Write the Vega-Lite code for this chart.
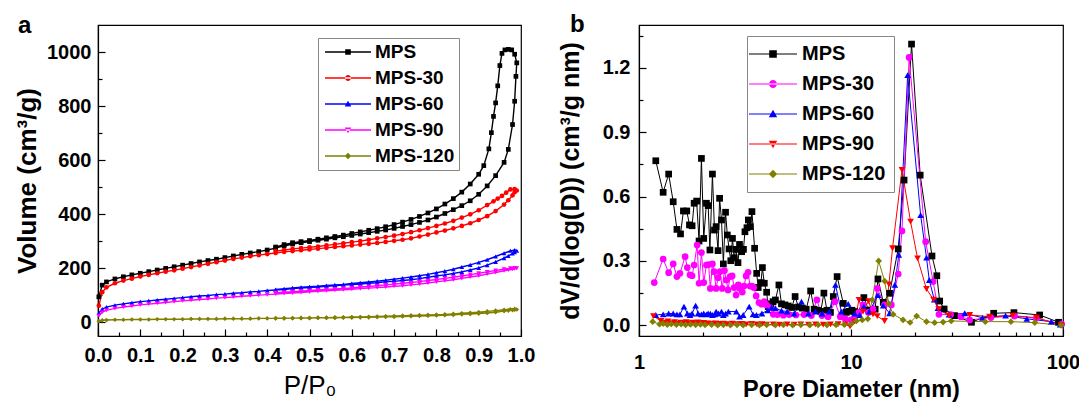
{
"$schema":"https://vega.github.io/schema/vega-lite/v6.json",
"background":"white",
"padding":{"left":13,"top":11,"right":5,"bottom":5},
"spacing":21,
"config":{
 "view":{"stroke":"#000000","strokeWidth":1.2},
 "font":"Liberation Sans",
 "axis":{"domainColor":"#000000","domainWidth":1.2,"tickColor":"#000000","tickWidth":1.2,"labelColor":"#000000","titleColor":"#000000","labelFont":"Liberation Sans","titleFont":"Liberation Sans","labelFontWeight":"bold","titleFontWeight":"bold","labelFontSize":20,"titleFontSize":23,"grid":false,"labelOverlap":false,"labelFlush":false},
 "legend":{"labelFont":"Liberation Sans","labelFontWeight":"bold","labelColor":"#000000","strokeColor":"#888888","fillColor":"#ffffff","symbolSize":400,"symbolStrokeWidth":0,"orient":"none"},
 "title":{"font":"Liberation Sans","fontWeight":"bold","color":"#000000","fontSize":24,"anchor":"start","frame":"group"}
},
"resolve":{"scale":{"color":"independent","shape":"independent"},"legend":{"color":"independent","shape":"independent"}},
"hconcat":[
{
"width":423,"height":311,
"title":{"text":"a","dx":-80,"offset":-12.5},
"data":{"values":[
{"s":"MPS","o":1,"p":0.002,"v":95},{"s":"MPS","o":2,"p":0.01,"v":138},{"s":"MPS","o":3,"p":0.02,"v":150},{"s":"MPS","o":4,"p":0.04,"v":161},{"s":"MPS","o":5,"p":0.06,"v":169},{"s":"MPS","o":6,"p":0.08,"v":176},{"s":"MPS","o":7,"p":0.10,"v":182},{"s":"MPS","o":8,"p":0.12,"v":188},{"s":"MPS","o":9,"p":0.14,"v":194},{"s":"MPS","o":10,"p":0.16,"v":200},{"s":"MPS","o":11,"p":0.18,"v":206},{"s":"MPS","o":12,"p":0.20,"v":212},{"s":"MPS","o":13,"p":0.22,"v":218},{"s":"MPS","o":14,"p":0.24,"v":224},{"s":"MPS","o":15,"p":0.26,"v":229},{"s":"MPS","o":16,"p":0.28,"v":234},{"s":"MPS","o":17,"p":0.30,"v":240},{"s":"MPS","o":18,"p":0.32,"v":246},{"s":"MPS","o":19,"p":0.34,"v":252},{"s":"MPS","o":20,"p":0.36,"v":257},{"s":"MPS","o":21,"p":0.38,"v":262},{"s":"MPS","o":22,"p":0.40,"v":268},{"s":"MPS","o":23,"p":0.42,"v":275},{"s":"MPS","o":24,"p":0.44,"v":283},{"s":"MPS","o":25,"p":0.46,"v":290},{"s":"MPS","o":26,"p":0.48,"v":295},{"s":"MPS","o":27,"p":0.50,"v":299},{"s":"MPS","o":28,"p":0.52,"v":304},{"s":"MPS","o":29,"p":0.54,"v":308},{"s":"MPS","o":30,"p":0.56,"v":313},{"s":"MPS","o":31,"p":0.58,"v":317},{"s":"MPS","o":32,"p":0.60,"v":322},{"s":"MPS","o":33,"p":0.62,"v":327},{"s":"MPS","o":34,"p":0.64,"v":332},{"s":"MPS","o":35,"p":0.66,"v":337},{"s":"MPS","o":36,"p":0.68,"v":342},{"s":"MPS","o":37,"p":0.70,"v":348},{"s":"MPS","o":38,"p":0.72,"v":355},{"s":"MPS","o":39,"p":0.74,"v":362},{"s":"MPS","o":40,"p":0.76,"v":370},{"s":"MPS","o":41,"p":0.78,"v":379},{"s":"MPS","o":42,"p":0.80,"v":390},{"s":"MPS","o":43,"p":0.82,"v":403},{"s":"MPS","o":44,"p":0.84,"v":417},{"s":"MPS","o":45,"p":0.86,"v":432},{"s":"MPS","o":46,"p":0.88,"v":450},{"s":"MPS","o":47,"p":0.90,"v":474},{"s":"MPS","o":48,"p":0.92,"v":505},{"s":"MPS","o":49,"p":0.94,"v":543},{"s":"MPS","o":50,"p":0.96,"v":592},{"s":"MPS","o":51,"p":0.97,"v":640},{"s":"MPS","o":52,"p":0.98,"v":732},{"s":"MPS","o":53,"p":0.985,"v":818},{"s":"MPS","o":54,"p":0.988,"v":910},{"s":"MPS","o":55,"p":0.99,"v":960},
{"s":"MPS","o":56,"p":0.985,"v":992},{"s":"MPS","o":57,"p":0.978,"v":1008},{"s":"MPS","o":58,"p":0.97,"v":1010},{"s":"MPS","o":59,"p":0.962,"v":1008},{"s":"MPS","o":60,"p":0.955,"v":995},{"s":"MPS","o":61,"p":0.95,"v":950},{"s":"MPS","o":62,"p":0.945,"v":875},{"s":"MPS","o":63,"p":0.94,"v":812},{"s":"MPS","o":64,"p":0.935,"v":762},{"s":"MPS","o":65,"p":0.93,"v":702},{"s":"MPS","o":66,"p":0.924,"v":642},{"s":"MPS","o":67,"p":0.912,"v":580},{"s":"MPS","o":68,"p":0.90,"v":548},{"s":"MPS","o":69,"p":0.88,"v":512},{"s":"MPS","o":70,"p":0.86,"v":482},{"s":"MPS","o":71,"p":0.84,"v":458},{"s":"MPS","o":72,"p":0.82,"v":438},{"s":"MPS","o":73,"p":0.80,"v":420},{"s":"MPS","o":74,"p":0.78,"v":405},{"s":"MPS","o":75,"p":0.76,"v":392},{"s":"MPS","o":76,"p":0.74,"v":381},{"s":"MPS","o":77,"p":0.72,"v":371},{"s":"MPS","o":78,"p":0.70,"v":362},{"s":"MPS","o":79,"p":0.68,"v":354},{"s":"MPS","o":80,"p":0.66,"v":347},{"s":"MPS","o":81,"p":0.64,"v":341},{"s":"MPS","o":82,"p":0.62,"v":335},{"s":"MPS","o":83,"p":0.60,"v":329},{"s":"MPS","o":84,"p":0.58,"v":323},{"s":"MPS","o":85,"p":0.56,"v":318},{"s":"MPS","o":86,"p":0.54,"v":313},{"s":"MPS","o":87,"p":0.52,"v":308},{"s":"MPS","o":88,"p":0.50,"v":303},{"s":"MPS","o":89,"p":0.48,"v":299},{"s":"MPS","o":90,"p":0.46,"v":295},{"s":"MPS","o":91,"p":0.44,"v":288},{"s":"MPS","o":92,"p":0.42,"v":279},
{"s":"MPS-30","o":1,"p":0.002,"v":62},{"s":"MPS-30","o":2,"p":0.01,"v":112},{"s":"MPS-30","o":3,"p":0.02,"v":130},{"s":"MPS-30","o":4,"p":0.04,"v":145},{"s":"MPS-30","o":5,"p":0.06,"v":155},{"s":"MPS-30","o":6,"p":0.08,"v":162},{"s":"MPS-30","o":7,"p":0.10,"v":170},{"s":"MPS-30","o":8,"p":0.12,"v":176},{"s":"MPS-30","o":9,"p":0.14,"v":182},{"s":"MPS-30","o":10,"p":0.16,"v":188},{"s":"MPS-30","o":11,"p":0.18,"v":193},{"s":"MPS-30","o":12,"p":0.20,"v":199},{"s":"MPS-30","o":13,"p":0.22,"v":205},{"s":"MPS-30","o":14,"p":0.24,"v":211},{"s":"MPS-30","o":15,"p":0.26,"v":217},{"s":"MPS-30","o":16,"p":0.28,"v":223},{"s":"MPS-30","o":17,"p":0.30,"v":229},{"s":"MPS-30","o":18,"p":0.32,"v":235},{"s":"MPS-30","o":19,"p":0.34,"v":240},{"s":"MPS-30","o":20,"p":0.36,"v":245},{"s":"MPS-30","o":21,"p":0.38,"v":249},{"s":"MPS-30","o":22,"p":0.40,"v":253},{"s":"MPS-30","o":23,"p":0.42,"v":257},{"s":"MPS-30","o":24,"p":0.44,"v":261},{"s":"MPS-30","o":25,"p":0.46,"v":264},{"s":"MPS-30","o":26,"p":0.48,"v":267},{"s":"MPS-30","o":27,"p":0.50,"v":270},{"s":"MPS-30","o":28,"p":0.52,"v":273},{"s":"MPS-30","o":29,"p":0.54,"v":276},{"s":"MPS-30","o":30,"p":0.56,"v":279},{"s":"MPS-30","o":31,"p":0.58,"v":282},{"s":"MPS-30","o":32,"p":0.60,"v":285},{"s":"MPS-30","o":33,"p":0.62,"v":288},{"s":"MPS-30","o":34,"p":0.64,"v":291},{"s":"MPS-30","o":35,"p":0.66,"v":294},{"s":"MPS-30","o":36,"p":0.68,"v":298},{"s":"MPS-30","o":37,"p":0.70,"v":302},{"s":"MPS-30","o":38,"p":0.72,"v":306},{"s":"MPS-30","o":39,"p":0.74,"v":311},{"s":"MPS-30","o":40,"p":0.76,"v":318},{"s":"MPS-30","o":41,"p":0.78,"v":325},{"s":"MPS-30","o":42,"p":0.80,"v":333},{"s":"MPS-30","o":43,"p":0.82,"v":340},{"s":"MPS-30","o":44,"p":0.84,"v":348},{"s":"MPS-30","o":45,"p":0.86,"v":357},{"s":"MPS-30","o":46,"p":0.88,"v":367},{"s":"MPS-30","o":47,"p":0.90,"v":379},{"s":"MPS-30","o":48,"p":0.92,"v":393},{"s":"MPS-30","o":49,"p":0.94,"v":412},{"s":"MPS-30","o":50,"p":0.96,"v":436},{"s":"MPS-30","o":51,"p":0.97,"v":452},{"s":"MPS-30","o":52,"p":0.98,"v":470},{"s":"MPS-30","o":53,"p":0.985,"v":482},{"s":"MPS-30","o":54,"p":0.99,"v":488},
{"s":"MPS-30","o":55,"p":0.985,"v":493},{"s":"MPS-30","o":56,"p":0.975,"v":492},{"s":"MPS-30","o":57,"p":0.965,"v":480},{"s":"MPS-30","o":58,"p":0.955,"v":468},{"s":"MPS-30","o":59,"p":0.945,"v":458},{"s":"MPS-30","o":60,"p":0.935,"v":448},{"s":"MPS-30","o":61,"p":0.92,"v":434},{"s":"MPS-30","o":62,"p":0.90,"v":415},{"s":"MPS-30","o":63,"p":0.88,"v":400},{"s":"MPS-30","o":64,"p":0.86,"v":388},{"s":"MPS-30","o":65,"p":0.84,"v":376},{"s":"MPS-30","o":66,"p":0.82,"v":366},{"s":"MPS-30","o":67,"p":0.80,"v":357},{"s":"MPS-30","o":68,"p":0.78,"v":349},{"s":"MPS-30","o":69,"p":0.76,"v":341},{"s":"MPS-30","o":70,"p":0.74,"v":334},{"s":"MPS-30","o":71,"p":0.72,"v":327},{"s":"MPS-30","o":72,"p":0.70,"v":321},{"s":"MPS-30","o":73,"p":0.68,"v":316},{"s":"MPS-30","o":74,"p":0.66,"v":311},{"s":"MPS-30","o":75,"p":0.64,"v":306},{"s":"MPS-30","o":76,"p":0.62,"v":301},{"s":"MPS-30","o":77,"p":0.60,"v":297},{"s":"MPS-30","o":78,"p":0.58,"v":293},{"s":"MPS-30","o":79,"p":0.56,"v":289},{"s":"MPS-30","o":80,"p":0.54,"v":285},{"s":"MPS-30","o":81,"p":0.52,"v":281},{"s":"MPS-30","o":82,"p":0.50,"v":278},{"s":"MPS-30","o":83,"p":0.48,"v":275},{"s":"MPS-30","o":84,"p":0.46,"v":272},{"s":"MPS-30","o":85,"p":0.44,"v":268},{"s":"MPS-30","o":86,"p":0.42,"v":264},
{"s":"MPS-60","o":1,"p":0.002,"v":35},{"s":"MPS-60","o":2,"p":0.01,"v":50},{"s":"MPS-60","o":3,"p":0.02,"v":57},{"s":"MPS-60","o":4,"p":0.04,"v":64},{"s":"MPS-60","o":5,"p":0.06,"v":69},{"s":"MPS-60","o":6,"p":0.08,"v":73},{"s":"MPS-60","o":7,"p":0.10,"v":77},{"s":"MPS-60","o":8,"p":0.12,"v":80},{"s":"MPS-60","o":9,"p":0.14,"v":83},{"s":"MPS-60","o":10,"p":0.16,"v":86},{"s":"MPS-60","o":11,"p":0.18,"v":89},{"s":"MPS-60","o":12,"p":0.20,"v":92},{"s":"MPS-60","o":13,"p":0.22,"v":95},{"s":"MPS-60","o":14,"p":0.24,"v":98},{"s":"MPS-60","o":15,"p":0.26,"v":100},{"s":"MPS-60","o":16,"p":0.28,"v":103},{"s":"MPS-60","o":17,"p":0.30,"v":105},{"s":"MPS-60","o":18,"p":0.32,"v":108},{"s":"MPS-60","o":19,"p":0.34,"v":110},{"s":"MPS-60","o":20,"p":0.36,"v":113},{"s":"MPS-60","o":21,"p":0.38,"v":115},{"s":"MPS-60","o":22,"p":0.40,"v":118},{"s":"MPS-60","o":23,"p":0.42,"v":120},{"s":"MPS-60","o":24,"p":0.44,"v":122},{"s":"MPS-60","o":25,"p":0.46,"v":125},{"s":"MPS-60","o":26,"p":0.48,"v":127},{"s":"MPS-60","o":27,"p":0.50,"v":129},{"s":"MPS-60","o":28,"p":0.52,"v":131},{"s":"MPS-60","o":29,"p":0.54,"v":134},{"s":"MPS-60","o":30,"p":0.56,"v":136},{"s":"MPS-60","o":31,"p":0.58,"v":138},{"s":"MPS-60","o":32,"p":0.60,"v":140},{"s":"MPS-60","o":33,"p":0.62,"v":142},{"s":"MPS-60","o":34,"p":0.64,"v":145},{"s":"MPS-60","o":35,"p":0.66,"v":147},{"s":"MPS-60","o":36,"p":0.68,"v":150},{"s":"MPS-60","o":37,"p":0.70,"v":152},{"s":"MPS-60","o":38,"p":0.72,"v":155},{"s":"MPS-60","o":39,"p":0.74,"v":158},{"s":"MPS-60","o":40,"p":0.76,"v":162},{"s":"MPS-60","o":41,"p":0.78,"v":167},{"s":"MPS-60","o":42,"p":0.80,"v":172},{"s":"MPS-60","o":43,"p":0.82,"v":176},{"s":"MPS-60","o":44,"p":0.84,"v":181},{"s":"MPS-60","o":45,"p":0.86,"v":187},{"s":"MPS-60","o":46,"p":0.88,"v":194},{"s":"MPS-60","o":47,"p":0.90,"v":202},{"s":"MPS-60","o":48,"p":0.92,"v":212},{"s":"MPS-60","o":49,"p":0.94,"v":224},{"s":"MPS-60","o":50,"p":0.96,"v":238},{"s":"MPS-60","o":51,"p":0.97,"v":246},{"s":"MPS-60","o":52,"p":0.98,"v":255},{"s":"MPS-60","o":53,"p":0.985,"v":260},{"s":"MPS-60","o":54,"p":0.99,"v":265},
{"s":"MPS-60","o":55,"p":0.985,"v":268},{"s":"MPS-60","o":56,"p":0.975,"v":265},{"s":"MPS-60","o":57,"p":0.96,"v":256},{"s":"MPS-60","o":58,"p":0.94,"v":244},{"s":"MPS-60","o":59,"p":0.92,"v":232},{"s":"MPS-60","o":60,"p":0.90,"v":222},{"s":"MPS-60","o":61,"p":0.88,"v":213},{"s":"MPS-60","o":62,"p":0.86,"v":205},{"s":"MPS-60","o":63,"p":0.84,"v":197},{"s":"MPS-60","o":64,"p":0.82,"v":190},{"s":"MPS-60","o":65,"p":0.80,"v":184},{"s":"MPS-60","o":66,"p":0.78,"v":178},{"s":"MPS-60","o":67,"p":0.76,"v":173},{"s":"MPS-60","o":68,"p":0.74,"v":168},{"s":"MPS-60","o":69,"p":0.72,"v":164},{"s":"MPS-60","o":70,"p":0.70,"v":160},{"s":"MPS-60","o":71,"p":0.68,"v":156},{"s":"MPS-60","o":72,"p":0.66,"v":153},{"s":"MPS-60","o":73,"p":0.64,"v":150},{"s":"MPS-60","o":74,"p":0.62,"v":147},{"s":"MPS-60","o":75,"p":0.60,"v":144},{"s":"MPS-60","o":76,"p":0.58,"v":141},{"s":"MPS-60","o":77,"p":0.56,"v":139},{"s":"MPS-60","o":78,"p":0.54,"v":137},{"s":"MPS-60","o":79,"p":0.52,"v":134},{"s":"MPS-60","o":80,"p":0.50,"v":132},{"s":"MPS-60","o":81,"p":0.48,"v":130},{"s":"MPS-60","o":82,"p":0.46,"v":128},{"s":"MPS-60","o":83,"p":0.44,"v":125},{"s":"MPS-60","o":84,"p":0.42,"v":122},
{"s":"MPS-90","o":1,"p":0.002,"v":25},{"s":"MPS-90","o":2,"p":0.01,"v":38},{"s":"MPS-90","o":3,"p":0.02,"v":45},{"s":"MPS-90","o":4,"p":0.04,"v":52},{"s":"MPS-90","o":5,"p":0.06,"v":57},{"s":"MPS-90","o":6,"p":0.08,"v":61},{"s":"MPS-90","o":7,"p":0.10,"v":65},{"s":"MPS-90","o":8,"p":0.12,"v":68},{"s":"MPS-90","o":9,"p":0.14,"v":71},{"s":"MPS-90","o":10,"p":0.16,"v":74},{"s":"MPS-90","o":11,"p":0.18,"v":77},{"s":"MPS-90","o":12,"p":0.20,"v":80},{"s":"MPS-90","o":13,"p":0.22,"v":82},{"s":"MPS-90","o":14,"p":0.24,"v":85},{"s":"MPS-90","o":15,"p":0.26,"v":87},{"s":"MPS-90","o":16,"p":0.28,"v":90},{"s":"MPS-90","o":17,"p":0.30,"v":92},{"s":"MPS-90","o":18,"p":0.32,"v":94},{"s":"MPS-90","o":19,"p":0.34,"v":97},{"s":"MPS-90","o":20,"p":0.36,"v":99},{"s":"MPS-90","o":21,"p":0.38,"v":101},{"s":"MPS-90","o":22,"p":0.40,"v":103},{"s":"MPS-90","o":23,"p":0.42,"v":105},{"s":"MPS-90","o":24,"p":0.44,"v":107},{"s":"MPS-90","o":25,"p":0.46,"v":109},{"s":"MPS-90","o":26,"p":0.48,"v":111},{"s":"MPS-90","o":27,"p":0.50,"v":113},{"s":"MPS-90","o":28,"p":0.52,"v":115},{"s":"MPS-90","o":29,"p":0.54,"v":117},{"s":"MPS-90","o":30,"p":0.56,"v":119},{"s":"MPS-90","o":31,"p":0.58,"v":121},{"s":"MPS-90","o":32,"p":0.60,"v":123},{"s":"MPS-90","o":33,"p":0.62,"v":125},{"s":"MPS-90","o":34,"p":0.64,"v":127},{"s":"MPS-90","o":35,"p":0.66,"v":129},{"s":"MPS-90","o":36,"p":0.68,"v":131},{"s":"MPS-90","o":37,"p":0.70,"v":134},{"s":"MPS-90","o":38,"p":0.72,"v":136},{"s":"MPS-90","o":39,"p":0.74,"v":139},{"s":"MPS-90","o":40,"p":0.76,"v":142},{"s":"MPS-90","o":41,"p":0.78,"v":146},{"s":"MPS-90","o":42,"p":0.80,"v":150},{"s":"MPS-90","o":43,"p":0.82,"v":154},{"s":"MPS-90","o":44,"p":0.84,"v":158},{"s":"MPS-90","o":45,"p":0.86,"v":163},{"s":"MPS-90","o":46,"p":0.88,"v":168},{"s":"MPS-90","o":47,"p":0.90,"v":173},{"s":"MPS-90","o":48,"p":0.92,"v":179},{"s":"MPS-90","o":49,"p":0.94,"v":185},{"s":"MPS-90","o":50,"p":0.96,"v":191},{"s":"MPS-90","o":51,"p":0.97,"v":194},{"s":"MPS-90","o":52,"p":0.98,"v":197},{"s":"MPS-90","o":53,"p":0.985,"v":199},{"s":"MPS-90","o":54,"p":0.99,"v":200},
{"s":"MPS-90","o":55,"p":0.985,"v":201},{"s":"MPS-90","o":56,"p":0.975,"v":200},{"s":"MPS-90","o":57,"p":0.96,"v":197},{"s":"MPS-90","o":58,"p":0.94,"v":192},{"s":"MPS-90","o":59,"p":0.92,"v":187},{"s":"MPS-90","o":60,"p":0.90,"v":182},{"s":"MPS-90","o":61,"p":0.88,"v":177},{"s":"MPS-90","o":62,"p":0.86,"v":172},{"s":"MPS-90","o":63,"p":0.84,"v":167},{"s":"MPS-90","o":64,"p":0.82,"v":163},{"s":"MPS-90","o":65,"p":0.80,"v":159},{"s":"MPS-90","o":66,"p":0.78,"v":155},{"s":"MPS-90","o":67,"p":0.76,"v":151},{"s":"MPS-90","o":68,"p":0.74,"v":148},{"s":"MPS-90","o":69,"p":0.72,"v":145},{"s":"MPS-90","o":70,"p":0.70,"v":142},{"s":"MPS-90","o":71,"p":0.68,"v":139},{"s":"MPS-90","o":72,"p":0.66,"v":136},{"s":"MPS-90","o":73,"p":0.64,"v":133},{"s":"MPS-90","o":74,"p":0.62,"v":131},{"s":"MPS-90","o":75,"p":0.60,"v":128},{"s":"MPS-90","o":76,"p":0.58,"v":126},{"s":"MPS-90","o":77,"p":0.56,"v":124},{"s":"MPS-90","o":78,"p":0.54,"v":122},{"s":"MPS-90","o":79,"p":0.52,"v":120},{"s":"MPS-90","o":80,"p":0.50,"v":118},{"s":"MPS-90","o":81,"p":0.48,"v":116},{"s":"MPS-90","o":82,"p":0.46,"v":114},{"s":"MPS-90","o":83,"p":0.44,"v":112},{"s":"MPS-90","o":84,"p":0.42,"v":110},
{"s":"MPS-120","o":1,"p":0.002,"v":5},{"s":"MPS-120","o":2,"p":0.01,"v":8},{"s":"MPS-120","o":3,"p":0.02,"v":9},{"s":"MPS-120","o":4,"p":0.04,"v":10},{"s":"MPS-120","o":5,"p":0.06,"v":10},{"s":"MPS-120","o":6,"p":0.08,"v":11},{"s":"MPS-120","o":7,"p":0.10,"v":11},{"s":"MPS-120","o":8,"p":0.12,"v":11},{"s":"MPS-120","o":9,"p":0.14,"v":12},{"s":"MPS-120","o":10,"p":0.16,"v":12},{"s":"MPS-120","o":11,"p":0.18,"v":12},{"s":"MPS-120","o":12,"p":0.20,"v":12},{"s":"MPS-120","o":13,"p":0.22,"v":13},{"s":"MPS-120","o":14,"p":0.24,"v":13},{"s":"MPS-120","o":15,"p":0.26,"v":13},{"s":"MPS-120","o":16,"p":0.28,"v":13},{"s":"MPS-120","o":17,"p":0.30,"v":14},{"s":"MPS-120","o":18,"p":0.32,"v":14},{"s":"MPS-120","o":19,"p":0.34,"v":14},{"s":"MPS-120","o":20,"p":0.36,"v":14},{"s":"MPS-120","o":21,"p":0.38,"v":15},{"s":"MPS-120","o":22,"p":0.40,"v":15},{"s":"MPS-120","o":23,"p":0.42,"v":15},{"s":"MPS-120","o":24,"p":0.44,"v":15},{"s":"MPS-120","o":25,"p":0.46,"v":16},{"s":"MPS-120","o":26,"p":0.48,"v":16},{"s":"MPS-120","o":27,"p":0.50,"v":16},{"s":"MPS-120","o":28,"p":0.52,"v":17},{"s":"MPS-120","o":29,"p":0.54,"v":17},{"s":"MPS-120","o":30,"p":0.56,"v":17},{"s":"MPS-120","o":31,"p":0.58,"v":18},{"s":"MPS-120","o":32,"p":0.60,"v":18},{"s":"MPS-120","o":33,"p":0.62,"v":19},{"s":"MPS-120","o":34,"p":0.64,"v":19},{"s":"MPS-120","o":35,"p":0.66,"v":20},{"s":"MPS-120","o":36,"p":0.68,"v":21},{"s":"MPS-120","o":37,"p":0.70,"v":21},{"s":"MPS-120","o":38,"p":0.72,"v":22},{"s":"MPS-120","o":39,"p":0.74,"v":23},{"s":"MPS-120","o":40,"p":0.76,"v":24},{"s":"MPS-120","o":41,"p":0.78,"v":25},{"s":"MPS-120","o":42,"p":0.80,"v":26},{"s":"MPS-120","o":43,"p":0.82,"v":27},{"s":"MPS-120","o":44,"p":0.84,"v":28},{"s":"MPS-120","o":45,"p":0.86,"v":30},{"s":"MPS-120","o":46,"p":0.88,"v":31},{"s":"MPS-120","o":47,"p":0.90,"v":33},{"s":"MPS-120","o":48,"p":0.92,"v":35},{"s":"MPS-120","o":49,"p":0.94,"v":38},{"s":"MPS-120","o":50,"p":0.96,"v":42},{"s":"MPS-120","o":51,"p":0.97,"v":44},{"s":"MPS-120","o":52,"p":0.98,"v":46},{"s":"MPS-120","o":53,"p":0.985,"v":47},{"s":"MPS-120","o":54,"p":0.99,"v":48},
{"s":"MPS-120","o":55,"p":0.985,"v":50},{"s":"MPS-120","o":56,"p":0.975,"v":49},{"s":"MPS-120","o":57,"p":0.96,"v":47},{"s":"MPS-120","o":58,"p":0.94,"v":44},{"s":"MPS-120","o":59,"p":0.92,"v":41},{"s":"MPS-120","o":60,"p":0.90,"v":38},{"s":"MPS-120","o":61,"p":0.88,"v":36},{"s":"MPS-120","o":62,"p":0.86,"v":34},{"s":"MPS-120","o":63,"p":0.84,"v":32},{"s":"MPS-120","o":64,"p":0.82,"v":30},{"s":"MPS-120","o":65,"p":0.80,"v":29},{"s":"MPS-120","o":66,"p":0.78,"v":28},{"s":"MPS-120","o":67,"p":0.76,"v":27},{"s":"MPS-120","o":68,"p":0.74,"v":26},{"s":"MPS-120","o":69,"p":0.72,"v":25},{"s":"MPS-120","o":70,"p":0.70,"v":24},{"s":"MPS-120","o":71,"p":0.68,"v":23},{"s":"MPS-120","o":72,"p":0.66,"v":22},{"s":"MPS-120","o":73,"p":0.64,"v":21},{"s":"MPS-120","o":74,"p":0.62,"v":20},{"s":"MPS-120","o":75,"p":0.60,"v":20},{"s":"MPS-120","o":76,"p":0.58,"v":19},{"s":"MPS-120","o":77,"p":0.56,"v":19},{"s":"MPS-120","o":78,"p":0.54,"v":18},{"s":"MPS-120","o":79,"p":0.52,"v":18},{"s":"MPS-120","o":80,"p":0.50,"v":17},{"s":"MPS-120","o":81,"p":0.48,"v":17},{"s":"MPS-120","o":82,"p":0.46,"v":16},{"s":"MPS-120","o":83,"p":0.44,"v":16},{"s":"MPS-120","o":84,"p":0.42,"v":16}
]},
"encoding":{
 "x":{"field":"p","type":"quantitative","scale":{"domain":[0,1],"nice":false,"zero":false},
  "axis":{"title":"P/P₀","titleFontWeight":"normal","titleFontSize":26,"values":[0,0.05,0.1,0.15,0.2,0.25,0.3,0.35,0.4,0.45,0.5,0.55,0.6,0.65,0.7,0.75,0.8,0.85,0.9,0.95,1],
   "labelExpr":"round(datum.value*20)%2==0 ? format(datum.value,'.1f') : ''",
   "tickSize":{"condition":{"test":"round(datum.value*20)%2==0","value":-7},"value":-4},
   "labelPadding":16,"titlePadding":4}},
 "y":{"field":"v","type":"quantitative","scale":{"domain":[-50,1100],"nice":false,"zero":false},
  "axis":{"title":"Volume (cm³/g)","titleFontSize":26,"values":[0,100,200,300,400,500,600,700,800,900,1000],
   "labelExpr":"datum.value%200==0 ? format(datum.value,'d') : ''",
   "tickSize":{"condition":{"test":"datum.value%200==0","value":-7},"value":-4},
   "labelPadding":14,"titlePadding":6}}
},
"resolve":{"scale":{"color":"independent","shape":"independent"},"legend":{"color":"independent","shape":"independent"}},
"layer":[
 {"mark":{"type":"line","strokeWidth":1.4},
  "encoding":{"color":{"field":"s","type":"nominal","scale":{"domain":["MPS","MPS-30","MPS-60","MPS-90","MPS-120"],"range":["#000000","#ff0000","#0000ff","#ff00ff","#808000"]},"legend":null},"order":{"field":"o","type":"quantitative"}}},
 {"mark":{"type":"point","filled":true,"opacity":1,"size":22},
  "encoding":{"color":{"field":"s","type":"nominal","scale":{"domain":["MPS","MPS-30","MPS-60","MPS-90","MPS-120"],"range":["#000000","#ff0000","#0000ff","#ff00ff","#808000"]},"legend":null},
   "shape":{"field":"s","type":"nominal","scale":{"domain":["MPS","MPS-30","MPS-60","MPS-90","MPS-120"],"range":["square","circle","triangle-up","triangle-down","diamond"]},"legend":null}}},
 {"data":{"values":[]},
  "mark":{"type":"point","filled":true,"opacity":1,"strokeWidth":0},
  "encoding":{
   "color":{"field":"s","type":"nominal","scale":{"domain":["MPS","MPS-30","MPS-60","MPS-90","MPS-120"],"range":["#000000","#ff0000","#0000ff","#ff00ff","#808000"]},
    "legend":{"title":null,"orient":"none","legendX":220,"legendY":13,"padding":4,"rowPadding":6,"labelFontSize":19,"symbolOffset":16,"labelOffset":17,"symbolSize":400,"symbolStrokeWidth":0}},
   "shape":{"field":"s","type":"nominal","scale":{"domain":["MPS","MPS-30","MPS-60","MPS-90","MPS-120"],"range":["M-2.3,-0.075H2.3V0.075H-2.3ZM-0.28,-0.28H0.28V0.28H-0.28Z","M-2.3,-0.075H2.3V0.075H-2.3ZM-0.3,0A0.3,0.3,0,1,0,0.3,0A0.3,0.3,0,1,0,-0.3,0Z","M-2.3,-0.075H2.3V0.075H-2.3ZM0,-0.33L0.33,0.25H-0.33Z","M-2.3,-0.075H2.3V0.075H-2.3ZM0,0.33L0.33,-0.25H-0.33Z","M-2.3,-0.075H2.3V0.075H-2.3ZM0,-0.33L0.33,0L0,0.33L-0.33,0Z"]},
    "legend":{"title":null,"orient":"none","legendX":220,"legendY":13,"padding":4,"rowPadding":6,"labelFontSize":19,"symbolOffset":16,"labelOffset":17,"symbolSize":400,"symbolStrokeWidth":0}}
  }}
]
},
{
"width":424,"height":311,
"title":{"text":"b","dx":-69,"offset":-11.5},
"data":{"values":[
{"s":"MPS","d":1.2,"v":0.767},{"s":"MPS","d":1.3,"v":0.62},{"s":"MPS","d":1.38,"v":0.705},{"s":"MPS","d":1.45,"v":0.576},{"s":"MPS","d":1.51,"v":0.447},{"s":"MPS","d":1.57,"v":0.426},{"s":"MPS","d":1.62,"v":0.533},{"s":"MPS","d":1.68,"v":0.533},{"s":"MPS","d":1.73,"v":0.468},{"s":"MPS","d":1.78,"v":0.464},{"s":"MPS","d":1.82,"v":0.569},{"s":"MPS","d":1.87,"v":0.579},{"s":"MPS","d":1.92,"v":0.393},{"s":"MPS","d":1.97,"v":0.778},{"s":"MPS","d":2.02,"v":0.405},{"s":"MPS","d":2.08,"v":0.569},{"s":"MPS","d":2.12,"v":0.558},{"s":"MPS","d":2.16,"v":0.351},{"s":"MPS","d":2.22,"v":0.705},{"s":"MPS","d":2.27,"v":0.444},{"s":"MPS","d":2.31,"v":0.46},{"s":"MPS","d":2.36,"v":0.348},{"s":"MPS","d":2.4,"v":0.592},{"s":"MPS","d":2.45,"v":0.491},{"s":"MPS","d":2.5,"v":0.286},{"s":"MPS","d":2.56,"v":0.527},{"s":"MPS","d":2.61,"v":0.421},{"s":"MPS","d":2.66,"v":0.356},{"s":"MPS","d":2.71,"v":0.301},{"s":"MPS","d":2.76,"v":0.405},{"s":"MPS","d":2.81,"v":0.315},{"s":"MPS","d":2.86,"v":0.354},{"s":"MPS","d":2.93,"v":0.292},{"s":"MPS","d":2.98,"v":0.377},{"s":"MPS","d":3.05,"v":0.343},{"s":"MPS","d":3.11,"v":0.354},{"s":"MPS","d":3.16,"v":0.436},{"s":"MPS","d":3.23,"v":0.455},{"s":"MPS","d":3.28,"v":0.491},{"s":"MPS","d":3.35,"v":0.46},{"s":"MPS","d":3.41,"v":0.53},{"s":"MPS","d":3.51,"v":0.359},{"s":"MPS","d":3.59,"v":0.242},{"s":"MPS","d":3.65,"v":0.176},{"s":"MPS","d":3.76,"v":0.199},{"s":"MPS","d":3.82,"v":0.269},{"s":"MPS","d":3.9,"v":0.196},{"s":"MPS","d":4.0,"v":0.154},{"s":"MPS","d":4.07,"v":0.087},{"s":"MPS","d":4.19,"v":0.1},{"s":"MPS","d":4.29,"v":0.11},{"s":"MPS","d":4.4,"v":0.118},{"s":"MPS","d":4.57,"v":0.188},{"s":"MPS","d":4.7,"v":0.1},{"s":"MPS","d":4.88,"v":0.095},{"s":"MPS","d":5.06,"v":0.09},{"s":"MPS","d":5.25,"v":0.083},{"s":"MPS","d":5.45,"v":0.134},{"s":"MPS","d":5.65,"v":0.085},{"s":"MPS","d":5.9,"v":0.08},{"s":"MPS","d":6.15,"v":0.075},{"s":"MPS","d":6.45,"v":0.16},{"s":"MPS","d":6.7,"v":0.075},{"s":"MPS","d":6.95,"v":0.07},{"s":"MPS","d":7.2,"v":0.065},{"s":"MPS","d":7.45,"v":0.15},{"s":"MPS","d":7.7,"v":0.07},{"s":"MPS","d":8.0,"v":0.06},{"s":"MPS","d":8.25,"v":0.134},{"s":"MPS","d":8.6,"v":0.227},{"s":"MPS","d":9.2,"v":0.102},{"s":"MPS","d":9.5,"v":0.06},{"s":"MPS","d":9.8,"v":0.065},{"s":"MPS","d":10.1,"v":0.07},{"s":"MPS","d":10.4,"v":0.064},{"s":"MPS","d":10.8,"v":0.058},{"s":"MPS","d":11.5,"v":0.129},{"s":"MPS","d":12.1,"v":0.07},{"s":"MPS","d":12.5,"v":0.071},{"s":"MPS","d":13.0,"v":0.075},{"s":"MPS","d":13.4,"v":0.216},{"s":"MPS","d":14.2,"v":0.107},{"s":"MPS","d":15.2,"v":0.149},{"s":"MPS","d":16.7,"v":0.356},{"s":"MPS","d":17.8,"v":0.677},{"s":"MPS","d":19.3,"v":1.311},{"s":"MPS","d":21.2,"v":0.70},{"s":"MPS","d":24.1,"v":0.323},{"s":"MPS","d":25.4,"v":0.231},{"s":"MPS","d":26.2,"v":0.113},{"s":"MPS","d":27.5,"v":0.076},{"s":"MPS","d":30.8,"v":0.045},{"s":"MPS","d":37,"v":0.014},{"s":"MPS","d":47.1,"v":0.056},{"s":"MPS","d":58.7,"v":0.059},{"s":"MPS","d":77.6,"v":0.048},{"s":"MPS","d":95.3,"v":0.014},
{"s":"MPS-30","d":1.18,"v":0.199},{"s":"MPS-30","d":1.3,"v":0.309},{"s":"MPS-30","d":1.38,"v":0.245},{"s":"MPS-30","d":1.45,"v":0.286},{"s":"MPS-30","d":1.51,"v":0.227},{"s":"MPS-30","d":1.56,"v":0.242},{"s":"MPS-30","d":1.65,"v":0.32},{"s":"MPS-30","d":1.69,"v":0.269},{"s":"MPS-30","d":1.74,"v":0.235},{"s":"MPS-30","d":1.78,"v":0.231},{"s":"MPS-30","d":1.82,"v":0.281},{"s":"MPS-30","d":1.88,"v":0.374},{"s":"MPS-30","d":1.92,"v":0.196},{"s":"MPS-30","d":1.97,"v":0.339},{"s":"MPS-30","d":2.02,"v":0.199},{"s":"MPS-30","d":2.08,"v":0.281},{"s":"MPS-30","d":2.13,"v":0.283},{"s":"MPS-30","d":2.17,"v":0.172},{"s":"MPS-30","d":2.22,"v":0.286},{"s":"MPS-30","d":2.26,"v":0.25},{"s":"MPS-30","d":2.31,"v":0.172},{"s":"MPS-30","d":2.36,"v":0.222},{"s":"MPS-30","d":2.41,"v":0.25},{"s":"MPS-30","d":2.47,"v":0.172},{"s":"MPS-30","d":2.53,"v":0.255},{"s":"MPS-30","d":2.58,"v":0.211},{"s":"MPS-30","d":2.63,"v":0.165},{"s":"MPS-30","d":2.69,"v":0.227},{"s":"MPS-30","d":2.75,"v":0.23},{"s":"MPS-30","d":2.81,"v":0.176},{"s":"MPS-30","d":2.87,"v":0.141},{"s":"MPS-30","d":2.94,"v":0.188},{"s":"MPS-30","d":3.0,"v":0.172},{"s":"MPS-30","d":3.07,"v":0.155},{"s":"MPS-30","d":3.13,"v":0.183},{"s":"MPS-30","d":3.2,"v":0.23},{"s":"MPS-30","d":3.27,"v":0.247},{"s":"MPS-30","d":3.34,"v":0.183},{"s":"MPS-30","d":3.41,"v":0.183},{"s":"MPS-30","d":3.48,"v":0.176},{"s":"MPS-30","d":3.57,"v":0.137},{"s":"MPS-30","d":3.68,"v":0.106},{"s":"MPS-30","d":3.79,"v":0.098},{"s":"MPS-30","d":3.9,"v":0.11},{"s":"MPS-30","d":4.0,"v":0.095},{"s":"MPS-30","d":4.15,"v":0.082},{"s":"MPS-30","d":4.3,"v":0.051},{"s":"MPS-30","d":4.5,"v":0.05},{"s":"MPS-30","d":4.8,"v":0.047},{"s":"MPS-30","d":5.1,"v":0.05},{"s":"MPS-30","d":5.5,"v":0.048},{"s":"MPS-30","d":6.0,"v":0.05},{"s":"MPS-30","d":6.5,"v":0.045},{"s":"MPS-30","d":6.9,"v":0.118},{"s":"MPS-30","d":7.3,"v":0.045},{"s":"MPS-30","d":7.8,"v":0.04},{"s":"MPS-30","d":8.4,"v":0.11},{"s":"MPS-30","d":8.9,"v":0.04},{"s":"MPS-30","d":9.4,"v":0.03},{"s":"MPS-30","d":10.0,"v":0.025},{"s":"MPS-30","d":10.4,"v":0.033},{"s":"MPS-30","d":10.9,"v":0.06},{"s":"MPS-30","d":11.4,"v":0.095},{"s":"MPS-30","d":12.1,"v":0.06},{"s":"MPS-30","d":12.7,"v":0.075},{"s":"MPS-30","d":13.3,"v":0.172},{"s":"MPS-30","d":14.4,"v":0.095},{"s":"MPS-30","d":15.5,"v":0.095},{"s":"MPS-30","d":16.7,"v":0.239},{"s":"MPS-30","d":17.4,"v":0.44},{"s":"MPS-30","d":18.8,"v":1.249},{"s":"MPS-30","d":22.5,"v":0.39},{"s":"MPS-30","d":24.4,"v":0.204},{"s":"MPS-30","d":26,"v":0.051},{"s":"MPS-30","d":29.5,"v":0.05},{"s":"MPS-30","d":33,"v":0.04},{"s":"MPS-30","d":36.3,"v":0.025},{"s":"MPS-30","d":45.7,"v":0.036},{"s":"MPS-30","d":59,"v":0.043},{"s":"MPS-30","d":74.8,"v":0.033},{"s":"MPS-30","d":98.6,"v":0.005},
{"s":"MPS-60","d":1.2,"v":0.048},{"s":"MPS-60","d":1.3,"v":0.051},{"s":"MPS-60","d":1.38,"v":0.055},{"s":"MPS-60","d":1.45,"v":0.055},{"s":"MPS-60","d":1.51,"v":0.051},{"s":"MPS-60","d":1.56,"v":0.051},{"s":"MPS-60","d":1.63,"v":0.087},{"s":"MPS-60","d":1.69,"v":0.055},{"s":"MPS-60","d":1.74,"v":0.048},{"s":"MPS-60","d":1.78,"v":0.055},{"s":"MPS-60","d":1.85,"v":0.092},{"s":"MPS-60","d":1.9,"v":0.055},{"s":"MPS-60","d":1.97,"v":0.051},{"s":"MPS-60","d":2.02,"v":0.055},{"s":"MPS-60","d":2.08,"v":0.051},{"s":"MPS-60","d":2.12,"v":0.055},{"s":"MPS-60","d":2.17,"v":0.054},{"s":"MPS-60","d":2.22,"v":0.048},{"s":"MPS-60","d":2.28,"v":0.051},{"s":"MPS-60","d":2.31,"v":0.064},{"s":"MPS-60","d":2.37,"v":0.055},{"s":"MPS-60","d":2.45,"v":0.064},{"s":"MPS-60","d":2.5,"v":0.048},{"s":"MPS-60","d":2.56,"v":0.054},{"s":"MPS-60","d":2.64,"v":0.064},{"s":"MPS-60","d":2.88,"v":0.064},{"s":"MPS-60","d":2.98,"v":0.04},{"s":"MPS-60","d":3.1,"v":0.048},{"s":"MPS-60","d":3.31,"v":0.087},{"s":"MPS-60","d":3.45,"v":0.051},{"s":"MPS-60","d":3.58,"v":0.048},{"s":"MPS-60","d":3.8,"v":0.055},{"s":"MPS-60","d":4.05,"v":0.07},{"s":"MPS-60","d":4.22,"v":0.082},{"s":"MPS-60","d":4.4,"v":0.08},{"s":"MPS-60","d":4.7,"v":0.068},{"s":"MPS-60","d":5.0,"v":0.064},{"s":"MPS-60","d":5.4,"v":0.055},{"s":"MPS-60","d":5.84,"v":0.11},{"s":"MPS-60","d":6.3,"v":0.055},{"s":"MPS-60","d":6.8,"v":0.064},{"s":"MPS-60","d":7.3,"v":0.055},{"s":"MPS-60","d":7.9,"v":0.064},{"s":"MPS-60","d":8.45,"v":0.188},{"s":"MPS-60","d":9.0,"v":0.064},{"s":"MPS-60","d":9.7,"v":0.1},{"s":"MPS-60","d":10.4,"v":0.055},{"s":"MPS-60","d":11.0,"v":0.048},{"s":"MPS-60","d":11.5,"v":0.087},{"s":"MPS-60","d":12.2,"v":0.064},{"s":"MPS-60","d":13.4,"v":0.141},{"s":"MPS-60","d":14.2,"v":0.092},{"s":"MPS-60","d":15.2,"v":0.056},{"s":"MPS-60","d":16.1,"v":0.188},{"s":"MPS-60","d":16.8,"v":0.328},{"s":"MPS-60","d":18.5,"v":1.166},{"s":"MPS-60","d":21.3,"v":0.514},{"s":"MPS-60","d":22.7,"v":0.315},{"s":"MPS-60","d":23.4,"v":0.211},{"s":"MPS-60","d":24.7,"v":0.12},{"s":"MPS-60","d":25.7,"v":0.08},{"s":"MPS-60","d":29,"v":0.05},{"s":"MPS-60","d":34.4,"v":0.056},{"s":"MPS-60","d":41.7,"v":0.035},{"s":"MPS-60","d":53.6,"v":0.045},{"s":"MPS-60","d":67.5,"v":0.03},{"s":"MPS-60","d":88,"v":0.017},{"s":"MPS-60","d":97,"v":0.003},
{"s":"MPS-90","d":1.17,"v":0.043},{"s":"MPS-90","d":1.27,"v":0.02},{"s":"MPS-90","d":1.32,"v":0.012},{"s":"MPS-90","d":1.37,"v":0.018},{"s":"MPS-90","d":1.42,"v":0.01},{"s":"MPS-90","d":1.47,"v":0.015},{"s":"MPS-90","d":1.52,"v":0.008},{"s":"MPS-90","d":1.57,"v":0.012},{"s":"MPS-90","d":1.62,"v":0.01},{"s":"MPS-90","d":1.67,"v":0.014},{"s":"MPS-90","d":1.72,"v":0.008},{"s":"MPS-90","d":1.78,"v":0.012},{"s":"MPS-90","d":1.84,"v":0.01},{"s":"MPS-90","d":1.9,"v":0.013},{"s":"MPS-90","d":1.96,"v":0.008},{"s":"MPS-90","d":2.02,"v":0.011},{"s":"MPS-90","d":2.1,"v":0.009},{"s":"MPS-90","d":2.2,"v":0.007},{"s":"MPS-90","d":2.3,"v":0.009},{"s":"MPS-90","d":2.4,"v":0.006},{"s":"MPS-90","d":2.5,"v":0.008},{"s":"MPS-90","d":2.6,"v":0.005},{"s":"MPS-90","d":2.75,"v":0.007},{"s":"MPS-90","d":2.9,"v":0.005},{"s":"MPS-90","d":3.05,"v":0.006},{"s":"MPS-90","d":3.2,"v":0.004},{"s":"MPS-90","d":3.4,"v":0.006},{"s":"MPS-90","d":3.6,"v":0.004},{"s":"MPS-90","d":3.8,"v":0.005},{"s":"MPS-90","d":4.0,"v":0.003},{"s":"MPS-90","d":4.3,"v":0.004},{"s":"MPS-90","d":4.6,"v":0.003},{"s":"MPS-90","d":5.0,"v":0.004},{"s":"MPS-90","d":5.4,"v":0.003},{"s":"MPS-90","d":5.8,"v":0.004},{"s":"MPS-90","d":6.3,"v":0.003},{"s":"MPS-90","d":6.8,"v":0.004},{"s":"MPS-90","d":7.4,"v":0.003},{"s":"MPS-90","d":8.0,"v":0.004},{"s":"MPS-90","d":8.7,"v":0.005},{"s":"MPS-90","d":9.4,"v":0.004},{"s":"MPS-90","d":9.9,"v":-0.005},{"s":"MPS-90","d":10.4,"v":0.017},{"s":"MPS-90","d":10.9,"v":0.118},{"s":"MPS-90","d":11.4,"v":0.064},{"s":"MPS-90","d":12.1,"v":0.113},{"s":"MPS-90","d":12.7,"v":0.051},{"s":"MPS-90","d":13.3,"v":0.043},{"s":"MPS-90","d":14.4,"v":0.02},{"s":"MPS-90","d":15.1,"v":0.191},{"s":"MPS-90","d":15.7,"v":0.359},{"s":"MPS-90","d":17.4,"v":0.724},{"s":"MPS-90","d":19.1,"v":0.483},{"s":"MPS-90","d":20.6,"v":0.312},{"s":"MPS-90","d":22.7,"v":0.169},{"s":"MPS-90","d":24.5,"v":0.12},{"s":"MPS-90","d":25.9,"v":0.075},{"s":"MPS-90","d":29,"v":0.045},{"s":"MPS-90","d":36.3,"v":0.048},{"s":"MPS-90","d":45,"v":0.04},{"s":"MPS-90","d":58,"v":0.045},{"s":"MPS-90","d":75,"v":0.035},{"s":"MPS-90","d":98,"v":0.0},
{"s":"MPS-120","d":1.16,"v":0.017},{"s":"MPS-120","d":1.25,"v":0.005},{"s":"MPS-120","d":1.3,"v":0.008},{"s":"MPS-120","d":1.36,"v":0.003},{"s":"MPS-120","d":1.42,"v":0.006},{"s":"MPS-120","d":1.5,"v":0.003},{"s":"MPS-120","d":1.58,"v":0.005},{"s":"MPS-120","d":1.66,"v":0.002},{"s":"MPS-120","d":1.75,"v":0.004},{"s":"MPS-120","d":1.85,"v":0.002},{"s":"MPS-120","d":1.95,"v":0.004},{"s":"MPS-120","d":2.05,"v":0.002},{"s":"MPS-120","d":2.2,"v":0.003},{"s":"MPS-120","d":2.35,"v":0.001},{"s":"MPS-120","d":2.5,"v":0.002},{"s":"MPS-120","d":2.7,"v":0.001},{"s":"MPS-120","d":2.9,"v":0.002},{"s":"MPS-120","d":3.1,"v":0.001},{"s":"MPS-120","d":3.4,"v":0.002},{"s":"MPS-120","d":3.7,"v":0.001},{"s":"MPS-120","d":4.0,"v":0.002},{"s":"MPS-120","d":4.4,"v":0.001},{"s":"MPS-120","d":4.8,"v":0.002},{"s":"MPS-120","d":5.3,"v":0.001},{"s":"MPS-120","d":5.8,"v":0.002},{"s":"MPS-120","d":6.4,"v":0.001},{"s":"MPS-120","d":7.0,"v":0.002},{"s":"MPS-120","d":7.7,"v":0.001},{"s":"MPS-120","d":8.5,"v":0.002},{"s":"MPS-120","d":9.3,"v":0.003},{"s":"MPS-120","d":10.0,"v":0.005},{"s":"MPS-120","d":10.6,"v":0.02},{"s":"MPS-120","d":11.3,"v":0.025},{"s":"MPS-120","d":12.0,"v":0.03},{"s":"MPS-120","d":12.6,"v":0.118},{"s":"MPS-120","d":13.5,"v":0.3},{"s":"MPS-120","d":14.4,"v":0.206},{"s":"MPS-120","d":15.1,"v":0.1},{"s":"MPS-120","d":15.8,"v":0.051},{"s":"MPS-120","d":17.6,"v":0.025},{"s":"MPS-120","d":19,"v":0.013},{"s":"MPS-120","d":20.4,"v":0.043},{"s":"MPS-120","d":22.7,"v":0.017},{"s":"MPS-120","d":24.8,"v":0.012},{"s":"MPS-120","d":27.2,"v":0.015},{"s":"MPS-120","d":29.7,"v":0.02},{"s":"MPS-120","d":43,"v":0.017},{"s":"MPS-120","d":56.8,"v":0.017},{"s":"MPS-120","d":73.6,"v":0.012},{"s":"MPS-120","d":98,"v":0.0}
]},
"encoding":{
 "x":{"field":"d","type":"quantitative","scale":{"type":"log","domain":[1,100],"nice":false},
  "axis":{"title":"Pore Diameter (nm)","titleFontSize":23.5,"values":[1,2,3,4,5,6,7,8,9,10,20,30,40,50,60,70,80,90,100],
   "labelExpr":"(datum.value==1||datum.value==10||datum.value==100) ? format(datum.value,'d') : ''",
   "tickSize":{"condition":{"test":"datum.value==1||datum.value==10||datum.value==100","value":-7},"value":-4},
   "labelPadding":23,"titlePadding":2}},
 "y":{"field":"v","type":"quantitative","scale":{"domain":[-0.05,1.4],"nice":false,"zero":false},
  "axis":{"title":"dV/d(log(D)) (cm³/g nm)","titleFontSize":25,"values":[0,0.15,0.3,0.45,0.6,0.75,0.9,1.05,1.2,1.35],
   "labelExpr":"round(datum.value/0.15)%2==0 ? format(datum.value,'.1f') : ''",
   "tickSize":{"condition":{"test":"round(datum.value/0.15)%2==0","value":-7},"value":-4},
   "labelPadding":16,"titlePadding":19}}
},
"resolve":{"scale":{"color":"independent","shape":"independent"},"legend":{"color":"independent","shape":"independent"}},
"layer":[
 {"mark":{"type":"line","strokeWidth":1},
  "encoding":{"color":{"field":"s","type":"nominal","scale":{"domain":["MPS","MPS-30","MPS-60","MPS-90","MPS-120"],"range":["#000000","#ff00ff","#0000ff","#ff0000","#808000"]},"legend":null}}},
 {"mark":{"type":"point","filled":true,"opacity":1,"size":45},
  "encoding":{"color":{"field":"s","type":"nominal","scale":{"domain":["MPS","MPS-30","MPS-60","MPS-90","MPS-120"],"range":["#000000","#ff00ff","#0000ff","#ff0000","#808000"]},"legend":null},
   "shape":{"field":"s","type":"nominal","scale":{"domain":["MPS","MPS-30","MPS-60","MPS-90","MPS-120"],"range":["square","circle","triangle-up","triangle-down","diamond"]},"legend":null}}},
 {"data":{"values":[]},
  "mark":{"type":"point","filled":true,"opacity":1,"strokeWidth":0},
  "encoding":{
   "color":{"field":"s","type":"nominal","scale":{"domain":["MPS","MPS-30","MPS-60","MPS-90","MPS-120"],"range":["#000000","#ff00ff","#0000ff","#ff0000","#808000"]},
    "legend":{"title":null,"orient":"none","legendX":108,"legendY":11,"padding":8,"rowPadding":10,"labelFontSize":20,"symbolOffset":8,"labelOffset":19,"symbolSize":400,"symbolStrokeWidth":0}},
   "shape":{"field":"s","type":"nominal","scale":{"domain":["MPS","MPS-30","MPS-60","MPS-90","MPS-120"],"range":["M-2.4,-0.05H2.4V0.05H-2.4ZM-0.38,-0.38H0.38V0.38H-0.38Z","M-2.4,-0.05H2.4V0.05H-2.4ZM-0.4,0A0.4,0.4,0,1,0,0.4,0A0.4,0.4,0,1,0,-0.4,0Z","M-2.4,-0.05H2.4V0.05H-2.4ZM0,-0.42L0.42,0.32H-0.42Z","M-2.4,-0.05H2.4V0.05H-2.4ZM0,0.42L0.42,-0.32H-0.42Z","M-2.4,-0.05H2.4V0.05H-2.4ZM0,-0.42L0.42,0L0,0.42L-0.42,0Z"]},
    "legend":{"title":null,"orient":"none","legendX":108,"legendY":11,"padding":8,"rowPadding":10,"labelFontSize":20,"symbolOffset":8,"labelOffset":19,"symbolSize":400,"symbolStrokeWidth":0}}
  }}
]
}
]
}
